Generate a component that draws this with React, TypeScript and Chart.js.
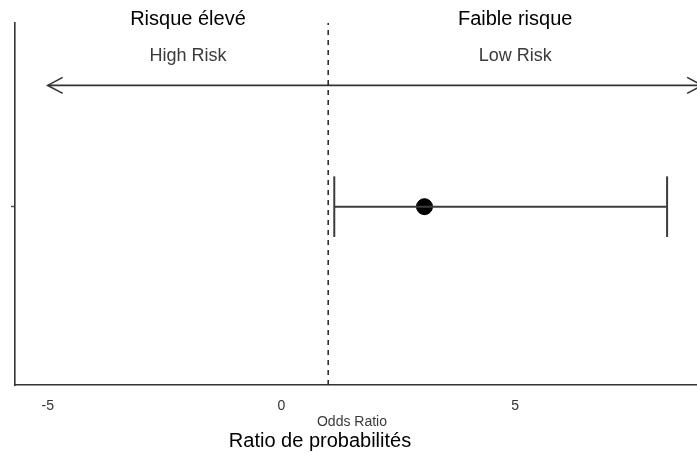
import React, { useEffect, useRef } from "react";
import { Chart, registerables } from "chart.js";

Chart.register(...registerables);

// ---- data ----
const xTickValues = [-5, 0, 5];
const xMin = -5.7;
const xMax = 8.89;
const yMin = 0;
const yMax = 2.03;
const categoryY = [1];
const oddsRatio = [3.06];
const ciLow = [1.13];
const ciHigh = [8.25];
const capHalfHeight = 0.17;
const referenceOR = 1;
const arrowFromX = -5;
const arrowToX = 9.0;
const arrowY = 1.68;
const riskX = [-2, 5];
const riskLabelsEn = ["High Risk", "Low Risk"];
const riskEnY = 1.845;
const riskLabelsFr = ["Risque élevé", "Faible risque"];
const xTitleEn = "Odds Ratio";
const xTitleFr = "Ratio de probabilités";

const FONT = "'Liberation Sans', Arial, sans-serif";

const annotationPlugin = {
  id: "annotations",
  afterDraw(chart: any) {
    const { ctx, scales } = chart;
    const xs = scales.x;
    const ys = scales.y;
    ctx.save();
    // arrow heads
    const ay = ys.getPixelForValue(arrowY);
    const lx = xs.getPixelForValue(arrowFromX);
    const rx = xs.getPixelForValue(arrowToX);
    ctx.strokeStyle = "#333";
    ctx.lineWidth = 1.6;
    ctx.beginPath();
    ctx.moveTo(lx + 15, ay - 8);
    ctx.lineTo(lx, ay);
    ctx.lineTo(lx + 15, ay + 8);
    ctx.moveTo(rx - 15, ay - 8);
    ctx.lineTo(rx, ay);
    ctx.lineTo(rx - 15, ay + 8);
    ctx.stroke();
    // labels
    ctx.textAlign = "center";
    ctx.textBaseline = "middle";
    riskLabelsEn.forEach((t, i) => {
      ctx.fillStyle = "#3a3a3a";
      ctx.font = `18px ${FONT}`;
      ctx.fillText(t, xs.getPixelForValue(riskX[i]), ys.getPixelForValue(riskEnY));
    });
    riskLabelsFr.forEach((t, i) => {
      ctx.fillStyle = "#000";
      ctx.font = `20px ${FONT}`;
      ctx.fillText(t, xs.getPixelForValue(riskX[i]), 19);
    });
    ctx.fillStyle = "#3a3a3a";
    ctx.font = `14px ${FONT}`;
    ctx.fillText(xTitleEn, 352, 422);
    ctx.fillStyle = "#000";
    ctx.font = `20px ${FONT}`;
    ctx.fillText(xTitleFr, 320, 441);
    ctx.restore();
  },
};

export default function App() {
  const ref = useRef<HTMLCanvasElement>(null);
  useEffect(() => {
    if (!ref.current) return;
    const lineColor = "#3c3c3c";
    const datasets: any[] = [];
    // reference dashed line
    datasets.push({
      data: [
        { x: referenceOR, y: yMin },
        { x: referenceOR, y: yMax },
      ],
      borderColor: "#222",
      borderWidth: 1.5,
      borderDash: [5, 5],
      pointRadius: 0,
      showLine: true,
    });
    // arrow line
    datasets.push({
      data: [
        { x: arrowFromX, y: arrowY },
        { x: arrowToX, y: arrowY },
      ],
      borderColor: "#333",
      borderWidth: 1.6,
      pointRadius: 0,
      showLine: true,
      clip: false,
    });
    categoryY.forEach((cy, i) => {
      datasets.push({
        data: [
          { x: ciLow[i], y: cy },
          { x: ciHigh[i], y: cy },
        ],
        borderColor: lineColor,
        borderWidth: 2,
        pointRadius: 0,
        showLine: true,
      });
      [ciLow[i], ciHigh[i]].forEach((cx) => {
        datasets.push({
          data: [
            { x: cx, y: cy - capHalfHeight },
            { x: cx, y: cy + capHalfHeight },
          ],
          borderColor: lineColor,
          borderWidth: 2,
          pointRadius: 0,
          showLine: true,
        });
      });
      datasets.push({
        data: [{ x: oddsRatio[i], y: cy }],
        backgroundColor: "#000",
        borderColor: "#000",
        pointRadius: 8,
        showLine: false,
      });
    });

    const chart = new Chart(ref.current, {
      type: "scatter",
      data: { datasets },
      options: {
        animation: false,
        responsive: false,
        maintainAspectRatio: false,
        layout: { autoPadding: false, padding: { top: 23, right: 0, left: 0, bottom: 0 } },
        plugins: { legend: { display: false }, tooltip: { enabled: false } },
        scales: {
          x: {
            type: "linear",
            min: xMin,
            max: xMax,
            afterBuildTicks: (s: any) => {
              s.ticks = xTickValues.map((v) => ({ value: v }));
            },
            afterFit: (s: any) => {
              s.height = 73;
              s.paddingLeft = 0;
              s.paddingRight = 0;
            },
            grid: { display: false, drawTicks: false },
            border: { display: true, color: "#333", width: 1.6 },
            ticks: {
              padding: 13,
              color: "#333",
              font: { family: FONT, size: 14 },
              maxRotation: 0,
            },
          },
          y: {
            type: "linear",
            min: yMin,
            max: yMax,
            afterBuildTicks: (s: any) => {
              s.ticks = categoryY.map((v) => ({ value: v }));
            },
            afterFit: (s: any) => {
              s.width = 15;
              s.paddingTop = 0;
              s.paddingBottom = 0;
            },
            grid: {
              drawOnChartArea: false,
              drawTicks: true,
              tickLength: 4,
              tickColor: "#555",
              tickWidth: 1.5,
            },
            border: { display: true, color: "#333", width: 1.6 },
            ticks: { callback: () => "", padding: 0 },
          },
        },
      },
      plugins: [annotationPlugin],
    } as any);
    return () => chart.destroy();
  }, []);
  return (
    <div style={{ position: "fixed", left: 0, top: 0, width: 697, height: 458, background: "#fff" }}>
      <canvas ref={ref} width={697} height={458} style={{ width: 697, height: 458 }} />
    </div>
  );
}
